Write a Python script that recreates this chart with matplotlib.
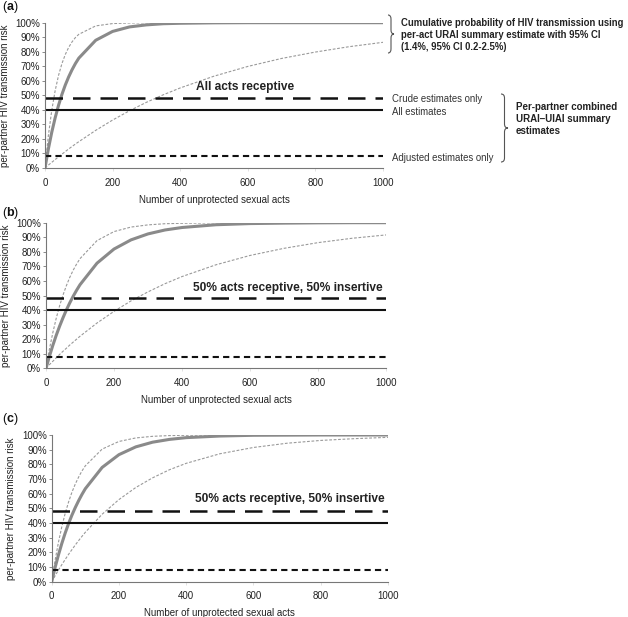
import matplotlib
matplotlib.use("Agg")
import matplotlib.pyplot as plt
from matplotlib.path import Path
from matplotlib.patches import PathPatch
from matplotlib.ticker import PercentFormatter

plt.rcParams['font.family'] = ['Liberation Sans', 'DejaVu Sans']
plt.rcParams['mathtext.fontset'] = 'custom'
plt.rcParams['mathtext.bf'] = 'Liberation Sans:bold'
plt.rcParams['mathtext.rm'] = 'Liberation Sans'

# number of unprotected acts
acts = [0, 10, 20, 30, 40, 50, 60, 70, 80, 90, 100,
        150, 200, 250, 300, 350, 400,
        500, 600, 700, 800, 900, 1000]

# (a) all acts receptive: cumulative risk (%) with 95% CI
a_mid = [0, 13.2, 24.6, 34.5, 43.1, 50.6, 57.1, 62.7, 67.6, 71.9, 75.6,
         87.9, 94.0, 97.1, 98.5, 99.3, 99.6,
         99.9, 100, 100, 100, 100, 100]
a_hi = [0, 22.4, 39.7, 53.2, 63.7, 71.8, 78.1, 83.0, 86.8, 89.8, 92.0,
        97.8, 99.4, 99.8, 99.9, 100, 100,
        100, 100, 100, 100, 100, 100]
a_lo = [0, 2.0, 3.9, 5.8, 7.7, 9.5, 11.3, 13.1, 14.8, 16.5, 18.1,
        25.9, 33.0, 39.4, 45.2, 50.4, 55.1,
        63.2, 69.9, 75.4, 79.8, 83.5, 86.5]

# (b) 50% receptive, 50% insertive
b_mid = [0, 8.2, 15.7, 22.6, 28.9, 34.7, 40.1, 45.0, 49.5, 53.6, 57.4,
         72.2, 81.9, 88.2, 92.3, 95.0, 96.7,
         98.6, 99.4, 99.7, 99.9, 100, 100]
b_hi = [0, 13.1, 24.4, 34.3, 42.9, 50.3, 56.8, 62.5, 67.4, 71.6, 75.3,
        87.7, 93.9, 97.0, 98.5, 99.3, 99.6,
        99.9, 100, 100, 100, 100, 100]
b_lo = [0, 2.5, 4.8, 7.2, 9.5, 11.7, 13.8, 16.0, 18.0, 20.0, 22.0,
        31.1, 39.1, 46.3, 52.5, 58.1, 63.0,
        71.1, 77.5, 82.4, 86.3, 89.3, 91.6]

# (c) 50% receptive, 50% insertive
c_mid = [0, 9.6, 18.2, 26.0, 33.1, 39.5, 45.3, 50.5, 55.2, 59.5, 63.4,
         77.9, 86.6, 91.9, 95.1, 97.0, 98.2,
         99.3, 99.8, 99.9, 100, 100, 100]
c_hi = [0, 14.5, 26.8, 37.4, 46.5, 54.2, 60.9, 66.5, 71.3, 75.5, 79.0,
        90.4, 95.6, 98.0, 99.1, 99.6, 99.8,
        100, 100, 100, 100, 100, 100]
c_lo = [0, 4.0, 7.9, 11.6, 15.1, 18.6, 21.8, 25.0, 28.0, 30.9, 33.7,
        46.0, 56.0, 64.2, 70.8, 76.3, 80.7,
        87.2, 91.5, 94.4, 96.3, 97.5, 98.4]

# per-partner summary estimates (%)
crude = 48
all_est = 40
adjusted = 8

W, H = 628, 617
fig = plt.figure(figsize=(W / 100, H / 100), dpi=100)


def px_axes(x0, x1, y0, y1):
    # pixel box (top-left origin) -> axes
    return fig.add_axes([x0 / W, 1 - y1 / H, (x1 - x0) / W, (y1 - y0) / H])


def brace(x, y_top, y_bot, w):
    ym = (y_top + y_bot) / 2
    d = 4
    pts = [(x, y_top), (x + w / 2, y_top), (x + w / 2, y_top + d),
           (x + w / 2, ym - d), (x + w / 2, ym), (x + w, ym),
           (x + w / 2, ym), (x + w / 2, ym + d),
           (x + w / 2, y_bot - d), (x + w / 2, y_bot), (x, y_bot)]
    codes = [Path.MOVETO, Path.CURVE3, Path.CURVE3,
             Path.LINETO, Path.CURVE3, Path.CURVE3,
             Path.CURVE3, Path.CURVE3,
             Path.LINETO, Path.CURVE3, Path.CURVE3]
    pts = [(px / W, 1 - py / H) for px, py in pts]
    fig.add_artist(PathPatch(Path(pts, codes), transform=fig.transFigure,
                             fill=False, lw=0.8, color='#555555'))


panels = [
    ('a', (45, 383, 22.7, 168), a_mid, a_hi, a_lo,
     'All acts receptive', (592, 55.7), 'center', 7),
    ('b', (46, 386, 222.7, 368.3), b_mid, b_hi, b_lo,
     '50% acts receptive, 50% insertive', (991, 55.4), 'right', 213),
    ('c', (51.7, 388, 435, 581.7), c_mid, c_hi, c_lo,
     '50% acts receptive, 50% insertive', (991, 56.4), 'right', 419),
]

for letter, box, mid, hi, lo, title, tpos, tha, ly in panels:
    ax = px_axes(*box)
    ax.plot(acts, hi, color='#9a9a9a', lw=0.8, ls=(0, (2.5, 1.5)))
    ax.plot(acts, lo, color='#9a9a9a', lw=0.8, ls=(0, (2.5, 1.5)))
    ax.plot(acts, mid, color='#8a8a8a', lw=2.2)
    ax.axhline(crude, color='#111111', lw=1.8, ls=(0, (7, 4)))
    ax.axhline(all_est, color='#111111', lw=1.5)
    ax.axhline(adjusted, color='#111111', lw=1.5, ls=(0, (3, 2)))
    ax.set_xlim(0, 1000)
    ax.set_ylim(0, 100)
    ax.set_xticks(range(0, 1001, 200))
    ax.set_yticks(range(0, 101, 10))
    ax.yaxis.set_major_formatter(PercentFormatter(decimals=0))
    for s in ('top', 'right'):
        ax.spines[s].set_visible(False)
    for s in ('left', 'bottom'):
        ax.spines[s].set_color('#777777')
        ax.spines[s].set_linewidth(0.8)
    ax.tick_params(axis='y', labelsize=7, length=2, width=0.6,
                   color='#777777', pad=1.5, labelcolor='#222222')
    ax.tick_params(axis='x', labelsize=7, length=2, width=0.6,
                   color='#dddddd', pad=5, labelcolor='#222222')
    ax.set_xlabel('Number of unprotected sexual acts', fontsize=7,
                  color='#222222', labelpad=5)
    ax.set_ylabel('per-partner HIV transmission risk', fontsize=7,
                  color='#222222', labelpad=4)
    ax.text(tpos[0], tpos[1], title, fontsize=8.6, fontweight='bold',
            ha=tha, va='center', color='#222222')
    fig.text(2 / W, 1 - ly / H, r'($\mathbf{%s}$)' % letter,
             fontsize=9, ha='left', va='center', color='#111111')

# annotations for panel (a)
fig.text(392 / W, 1 - 99 / H, 'Crude estimates only', fontsize=6.9,
         va='center', color='#333333')
fig.text(392 / W, 1 - 112 / H, 'All estimates', fontsize=6.9,
         va='center', color='#333333')
fig.text(392 / W, 1 - 158 / H, 'Adjusted estimates only', fontsize=6.9,
         va='center', color='#333333')
fig.text(516 / W, 1 - 118.5 / H, 'Per-partner combined\nURAI\u2013UIAI summary\nestimates',
         fontsize=7, fontweight='bold', va='center', linespacing=1.25,
         color='#222222')
fig.text(401 / W, 1 - 35 / H,
         'Cumulative probability of HIV transmission using\n'
         'per-act URAI summary estimate with 95% CI\n'
         '(1.4%, 95% CI 0.2-2.5%)',
         fontsize=6.85, fontweight='bold', va='center', linespacing=1.2,
         color='#222222')
brace(388, 15, 53, 6)
brace(501, 94, 162, 7)

fig.savefig('out.png', dpi=100)
